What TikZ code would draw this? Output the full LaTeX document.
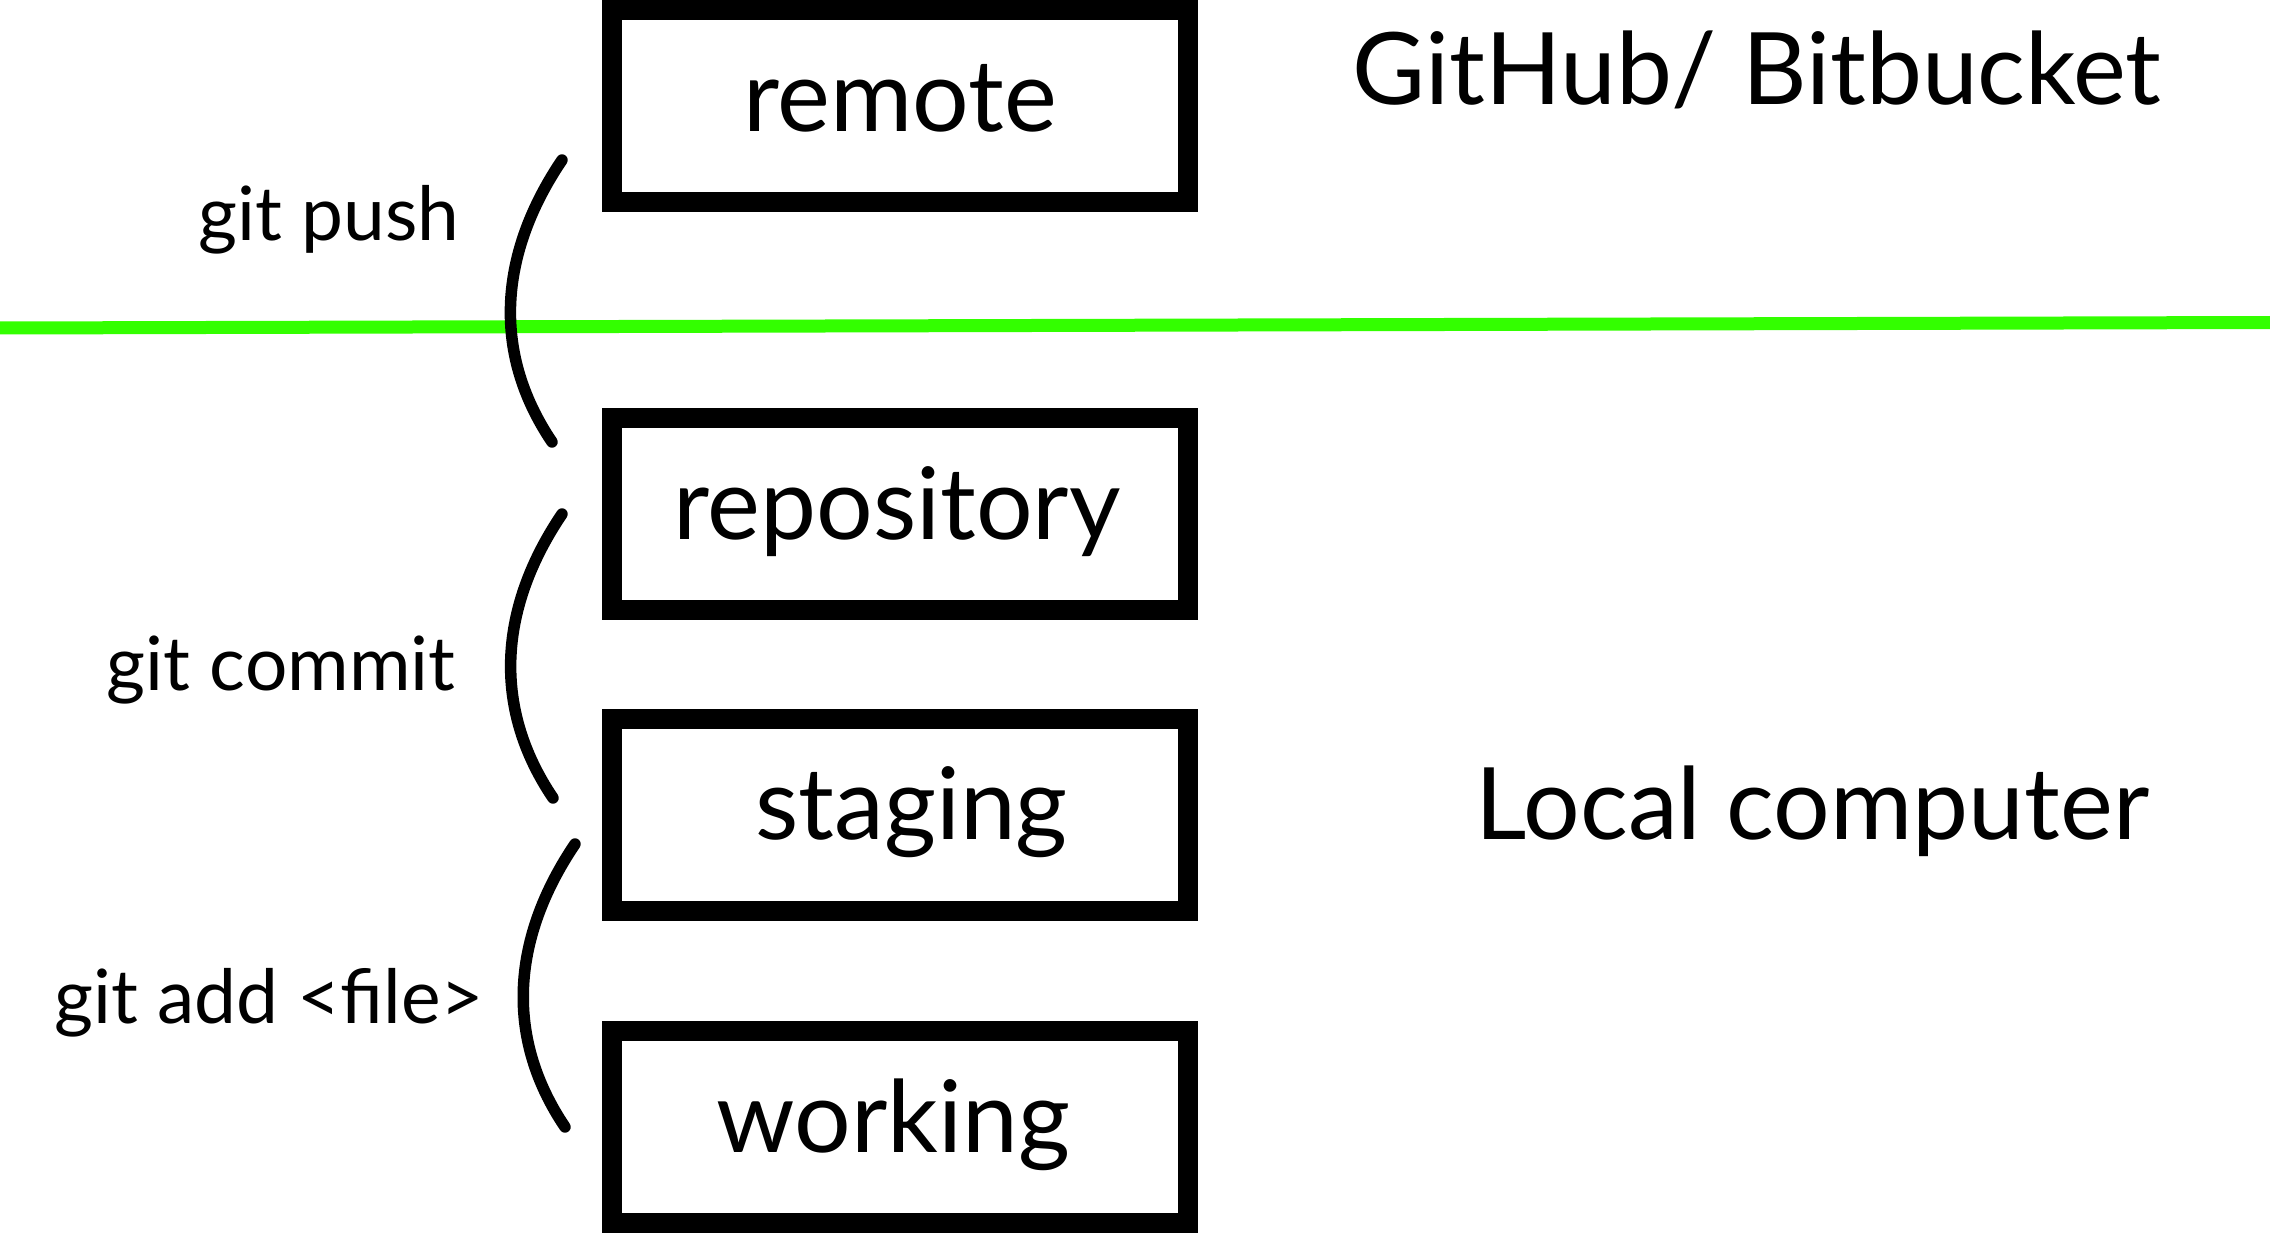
\documentclass[tikz,border=0pt]{standalone}
\usepackage{fontspec}
\setmainfont{Lato}
\usepackage{tikz}
\usepackage{xcolor}
\edef\sizeborder{0.2cm}
\tikzstyle{gitstage}=[draw,line width=\sizeborder,minimum width=5.76cm,minimum height=1.92cm,inner sep=0pt,font=\fontsize{28.45}{34}\selectfont,text height=21.6pt,text depth=7.1pt]
\tikzstyle{gitcmd}=[inner sep=0pt,anchor=base east,font=\fontsize{21.3}{26}\selectfont]
\tikzstyle{gitplace}=[inner sep=0pt,anchor=base,font=\fontsize{28.45}{34}\selectfont]
\tikzstyle{gitbracket}=[line width=0.115cm,line cap=round]
\definecolor{limegreen}{RGB}{51,255,0}

\begin{document}
\begin{tikzpicture}
		\useasboundingbox (0,0) rectangle (22.7,-12.33);

		\coordinate (borderStart) at (0,-3.28);
		\coordinate (borderEnd) at (22.7,-3.225);
		\draw[limegreen,line width=0.13cm] (borderStart) -- (borderEnd);

		\node [gitstage] (stageRemote) at (9,-1.06) {remote};
		\node [gitstage] (stageRepo) at (9,-5.14) {repository\kern0.06cm};
		\node [gitstage] (stageStaging) at (9,-8.145) {\kern0.23cm staging};
		\node [gitstage] (stageWorking) at (9,-11.27) {working\kern0.13cm};

		\node [gitplace] (placeRemote) at (17.57,-1.05) {GitHub/ Bitbucket};
		\node [gitplace] (placeLocal) at (18.125,-8.39) {Local computer};

		\coordinate (pushTop) at (5.62,-1.60);
		\coordinate (pushEnd) at (5.52,-4.42);
		\coordinate (commitTop) at (5.62,-5.14);
		\coordinate (commitEnd) at (5.53,-7.98);
		\coordinate (addTop) at (5.75,-8.44);
		\coordinate (addEnd) at (5.65,-11.27);

		\draw[gitbracket] (pushTop) to[out=236,in=124] (pushEnd);
		\draw[gitbracket] (commitTop) to[out=236,in=124] (commitEnd);
		\draw[gitbracket] (addTop) to[out=236,in=124] (addEnd);

		\node [gitcmd] (cmdPush) at (4.60,-2.41) {git push};
		\node [gitcmd] (cmdCommit) at (4.56,-6.90) {git commit};
		\node [gitcmd] (cmdAdd) at (4.85,-10.23) {git add <file>};
	\end{tikzpicture}
\end{document}
